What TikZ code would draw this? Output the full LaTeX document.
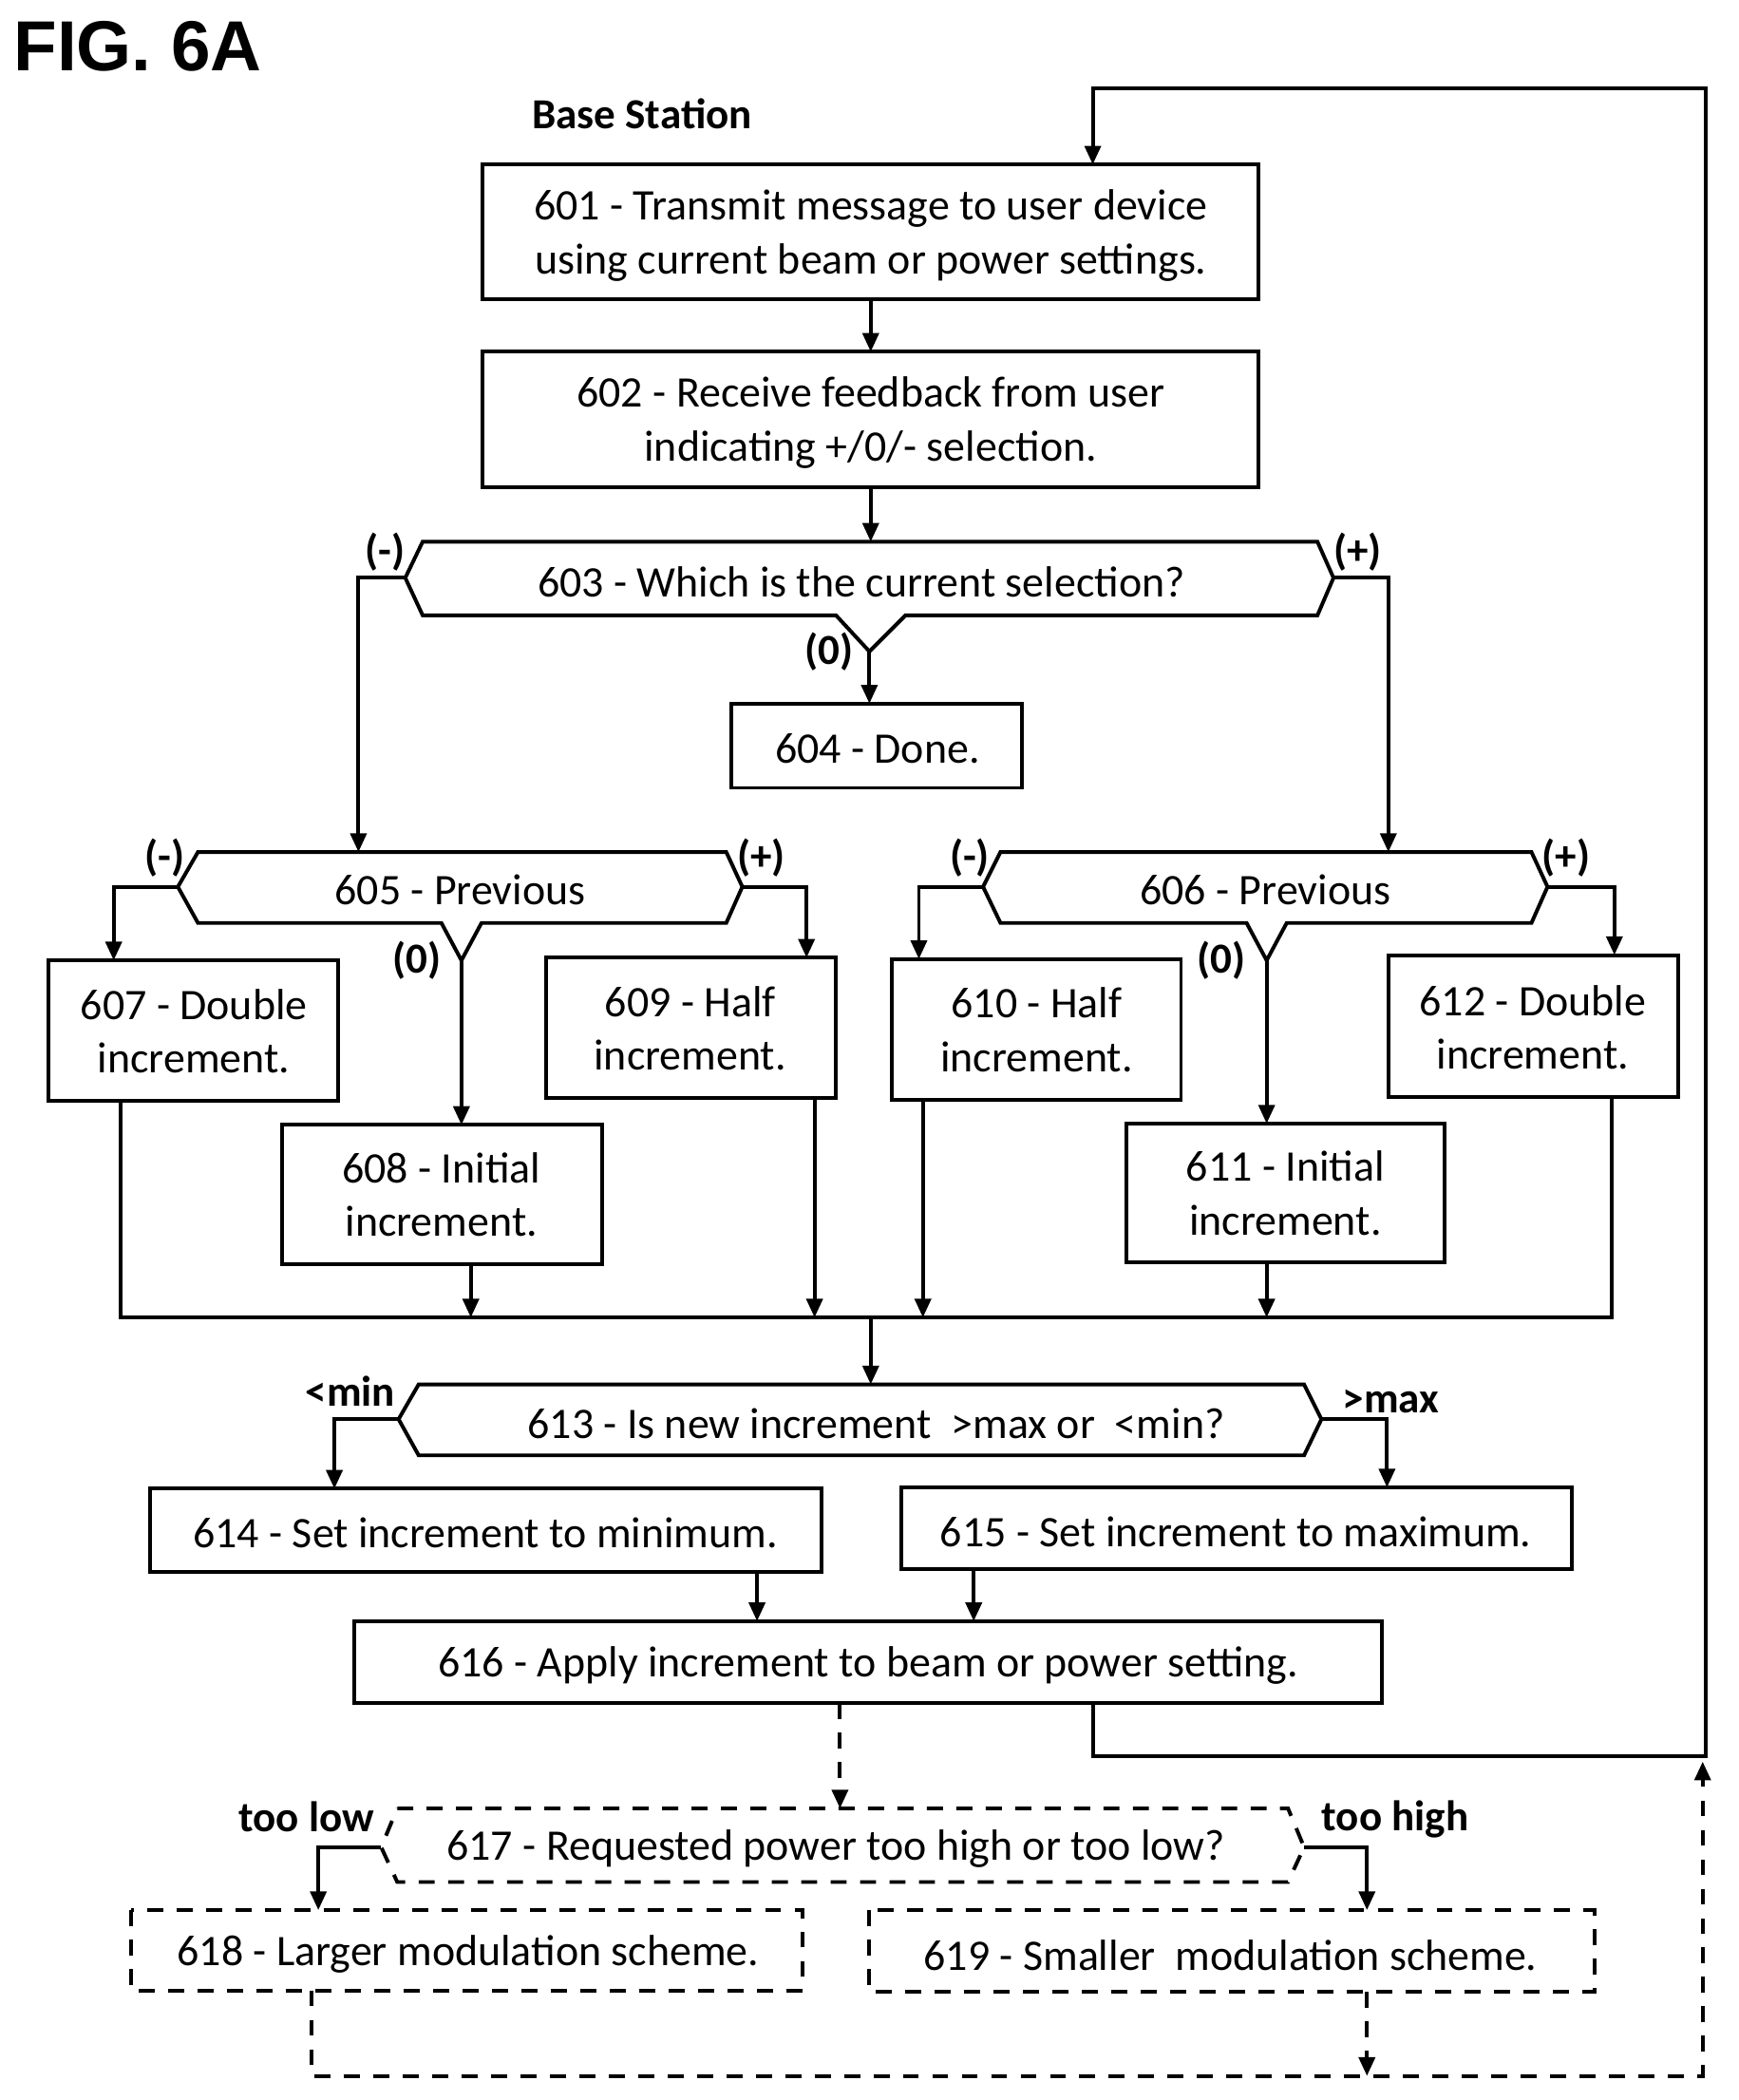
\documentclass[tikz,border=0pt]{standalone}
\usepackage{fontspec}
\setmainfont{Carlito}
\newfontfamily\figfont{Liberation Sans}
\usetikzlibrary{arrows.meta}
\begin{document}
\begin{tikzpicture}[x=0.5pt,y=-0.5pt,
  line width=1.4pt,
  >={Triangle[length=7pt,width=6pt]},
  box/.style={draw,line width=1.4pt},
  txt/.style={font=\fontsize{16.3}{20}\selectfont,align=center},
  lab/.style={font=\bfseries\fontsize{16}{18}\selectfont},
  dsh/.style={dash pattern=on 6pt off 5pt}]
\useasboundingbox (0,0) rectangle (1300,1570);
\node[font=\figfont\bfseries\fontsize{26.5}{28}\selectfont] (fig) at (103,35) {FIG. 6A};
\node[lab] (bs) at (480,85) {Base Station};
% boxes
\draw[box] (361,123) rectangle (941,224);
\node[txt] (n601) at (651,176) {601 - Transmit message to user device\\using current beam or power settings.};
\draw[box] (361,263) rectangle (941,364);
\node[txt] (n602) at (651,316) {602 - Receive feedback from user\\indicating +/0/- selection.};
% 603
\draw[box] (316,405) -- (985,405) -- (997,432) -- (985,460) -- (677,460) -- (650,487) -- (625,460) -- (316,460) -- (303,432) -- cycle;
\node[txt] (n603) at (644,435) {603 - Which is the current selection?};
\draw[box] (547,526) rectangle (764,589);
\node[txt] (n604) at (656,560) {604 - Done.};
% 605
\draw[box] (148,637) -- (543,637) -- (555,663) -- (543,690) -- (360,690) -- (345,718) -- (330,690) -- (148,690) -- (133,663) -- cycle;
\node[txt] (n605) at (344,665) {605 - Previous};
% 606
\draw[box] (748,637) -- (1145,637) -- (1157,663) -- (1145,690) -- (962,690) -- (947,718) -- (932,690) -- (748,690) -- (735,663) -- cycle;
\node[txt] (n606) at (946,665) {606 - Previous};
\draw[box] (36,718) rectangle (253,823);
\node[txt] (n607) at (145,771) {607 - Double\\increment.};
\draw[box] (408,716) rectangle (625,821);
\node[txt] (n609) at (516,769) {609 - Half\\increment.};
\draw[box] (211,841) rectangle (450,945);
\node[txt] (n608) at (330,893) {608 - Initial\\increment.};
\draw[box] (667,717) rectangle (883,822);
\node[txt] (n610) at (775,770) {610 - Half\\increment.};
\draw[box] (1038,714) rectangle (1255,820);
\node[txt] (n612) at (1146,768) {612 - Double\\increment.};
\draw[box] (842,840) rectangle (1080,944);
\node[txt] (n611) at (961,892) {611 - Initial\\increment.};
% 613
\draw[box] (313,1035) -- (975,1035) -- (988,1061) -- (975,1088) -- (313,1088) -- (298,1061) -- cycle;
\node[txt] (n613) at (655,1064) {613 - Is new increment \ >max or \ <min?};
\draw[box] (112,1113) rectangle (614,1175);
\node[txt] (n614) at (363,1146) {614 - Set increment to minimum.};
\draw[box] (674,1112) rectangle (1175,1173);
\node[txt] (n615) at (924,1145) {615 - Set increment to maximum.};
\draw[box] (265,1212) rectangle (1033,1273);
\node[txt] (n616) at (649,1245) {616 - Apply increment to beam or power setting.};
% 617 dashed
\draw[box,dsh] (297,1352) -- (963,1352) -- (975,1381) -- (963,1407) -- (297,1407) -- (285,1381) -- cycle;
\node[txt] (n617) at (625,1382) {617 - Requested power too high or too low?};
\draw[box,dsh] (98,1428) rectangle (600,1488);
\node[txt] (n618) at (350,1461) {618 - Larger modulation scheme.};
\draw[box,dsh] (650,1428) rectangle (1192,1489);
\node[txt] (n619) at (920,1462) {619 - Smaller \ modulation scheme.};
% labels
\node[lab] (l1) at (288,413) {(-)};
\node[lab] (l2) at (1015,413) {(+)};
\node[lab] (l3) at (620,487) {(0)};
\node[lab] (l4) at (123,641) {(-)};
\node[lab] (l5) at (569,641) {(+)};
\node[lab] (l6) at (312,718) {(0)};
\node[lab] (l7) at (725,641) {(-)};
\node[lab] (l8) at (1171,641) {(+)};
\node[lab] (l9) at (913,718) {(0)};
\node[lab] (l10) at (262,1040) {<min};
\node[lab] (l11) at (1040,1048) {>max};
\node[lab] (l12) at (229,1358) {too low};
\node[lab] (l13) at (1043,1360) {too high};
% connectors
\draw[->] (651,224) -- (651,263);
\draw[->] (651,364) -- (651,405);
\draw[->] (650,487) -- (650,526);
\draw[->] (303,432) -- (268,432) -- (268,637);
\draw[->] (997,432) -- (1038,432) -- (1038,637);
\draw[->] (133,663) -- (85,663) -- (85,718);
\draw[->] (555,663) -- (603,663) -- (603,716);
\draw[->] (345,718) -- (345,841);
\draw[->] (735,663) -- (687,663) -- (687,717);
\draw[->] (1157,663) -- (1207,663) -- (1207,714);
\draw[->] (947,718) -- (947,840);
\draw (90,823) -- (90,985) -- (1205,985) -- (1205,820);
\draw[->] (352,945) -- (352,985);
\draw[->] (609,821) -- (609,985);
\draw[->] (690,822) -- (690,985);
\draw[->] (947,944) -- (947,985);
\draw[->] (651,985) -- (651,1035);
\draw[->] (298,1061) -- (250,1061) -- (250,1113);
\draw[->] (988,1061) -- (1037,1061) -- (1037,1112);
\draw[->] (566,1175) -- (566,1212);
\draw[->] (728,1173) -- (728,1212);
\draw[->] (817,1273) -- (817,1313) -- (1275,1313) -- (1275,66) -- (817,66) -- (817,123);
\draw[->,dsh] (628,1273) -- (628,1352);
\draw[->] (285,1381) -- (238,1381) -- (238,1428);
\draw[->] (975,1381) -- (1022,1381) -- (1022,1428);
\draw[->,dsh] (233,1488) -- (233,1552) -- (1273,1552) -- (1273,1317);
\draw[->,dsh] (1022,1489) -- (1022,1552);
\end{tikzpicture}
\end{document}
